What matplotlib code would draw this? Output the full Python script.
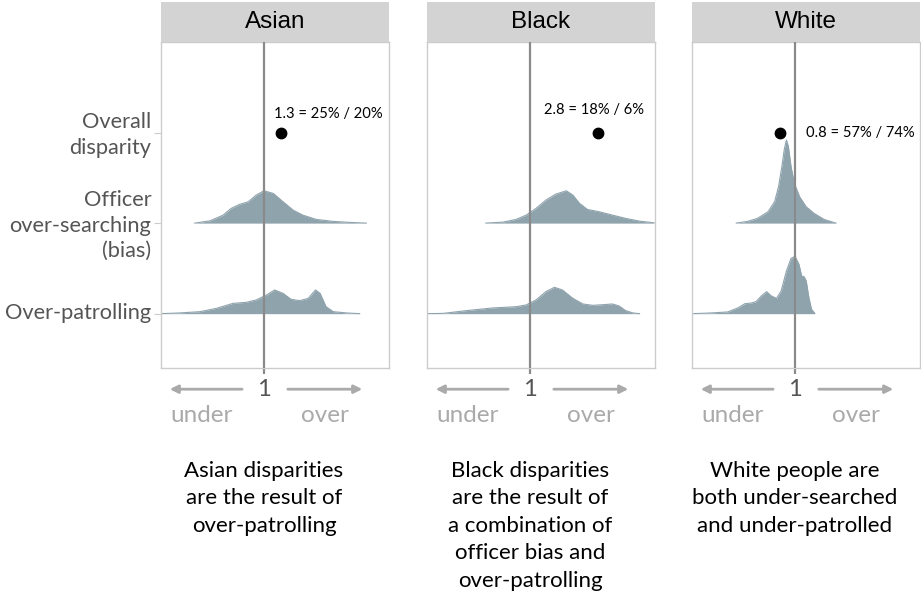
import numpy as np
import matplotlib
matplotlib.use("Agg")
import matplotlib.pyplot as plt
from matplotlib.transforms import offset_copy, blended_transform_factory, ScaledTranslation

plt.rcParams['font.family'] = ['Lato', 'DejaVu Sans']

races = ['Asian', 'Black', 'White']
row_labels = ['Overall\ndisparity', 'Officer\nover-searching\n(bias)', 'Over-patrolling']
row_pos = [3, 2, 1]

# overall search-rate ratio and the share behind it
overall = [1.3, 2.8, 0.8]
overall_text = ['1.3 = 25% / 20%', '2.8 = 18% / 6%', '0.8 = 57% / 74%']

captions = [
    'Asian disparities\nare the result of\nover-patrolling',
    'Black disparities\nare the result of\na combination of\nofficer bias and\nover-patrolling',
    'White people are\nboth under-searched\nand under-patrolled',
]

# ridge densities, x in log(ratio)
asian_bias_x = [-1.05, -0.82, -0.62, -0.50, -0.37, -0.24, -0.12, 0.0, 0.14, 0.29, 0.44, 0.59, 0.79, 1.05, 1.30, 1.55]
asian_bias_d = [0, .025, .088, .162, .207, .235, .309, .357, .328, .235, .144, .088, .041, .019, .008, 0]
asian_patrol_x = [-1.56, -1.28, -0.97, -0.72, -0.47, -0.27, -0.12, 0.04, 0.16, 0.29, 0.41, 0.54, 0.67, 0.78, 0.85, 0.94, 1.05, 1.25, 1.45]
asian_patrol_d = [0, .008, .022, .059, .114, .125, .151, .207, .262, .224, .158, .144, .169, .262, .224, .077, .022, .008, 0]

black_bias_x = [-0.67, -0.41, -0.21, -0.06, 0.09, 0.24, 0.39, 0.55, 0.65, 0.75, 0.87, 1.05, 1.25, 1.45, 1.66, 1.88]
black_bias_d = [0, .011, .041, .088, .162, .254, .320, .357, .309, .218, .151, .125, .088, .052, .022, .003]
black_patrol_x = [-1.58, -1.32, -0.97, -0.57, -0.21, -0.06, 0.09, 0.24, 0.37, 0.49, 0.65, 0.80, 0.95, 1.10, 1.25, 1.35, 1.45, 1.56, 1.66]
black_patrol_d = [0, .003, .033, .063, .077, .096, .151, .243, .291, .262, .169, .107, .092, .099, .107, .085, .033, .008, 0]

white_bias_x = [-0.89, -0.72, -0.57, -0.41, -0.31, -0.25, -0.20, -0.16, -0.13, -0.10, -0.06, -0.01, 0.07, 0.17, 0.29, 0.44, 0.62]
white_bias_d = [0, .019, .052, .125, .235, .401, .622, .825, .917, .843, .622, .439, .291, .180, .107, .041, 0]
white_patrol_x = [-1.55, -1.27, -1.02, -0.86, -0.76, -0.66, -0.59, -0.51, -0.43, -0.36, -0.28, -0.21, -0.13, -0.06, 0.0, 0.06, 0.10, 0.14, 0.17, 0.21, 0.25, 0.30]
white_patrol_d = [0, .008, .019, .066, .110, .118, .133, .196, .243, .196, .169, .251, .472, .611, .633, .545, .417, .406, .361, .177, .048, .003]

ridges = {
    'Asian': [(asian_bias_x, asian_bias_d), (asian_patrol_x, asian_patrol_d)],
    'Black': [(black_bias_x, black_bias_d), (black_patrol_x, black_patrol_d)],
    'White': [(white_bias_x, white_bias_d), (white_patrol_x, white_patrol_d)],
}

# label offsets (px) relative to the dot
text_off = [(-7, 19, 'left'), (-4, 23, 'center'), (26, 0, 'left')]

fill_col = '#8fa3ad'
W, H = 921, 591
fig = plt.figure(figsize=(W / 100, H / 100), dpi=100)

lefts = [161, 427, 692]
pw = 228
top, bottom = 42, 368

for i, race in enumerate(races):
    ax = fig.add_axes([lefts[i] / W, 1 - bottom / H, pw / W, (bottom - top) / H])
    ax.set_xscale('log')
    ax.set_xlim(np.exp(-1.561), np.exp(1.894))
    ax.set_ylim(0.40, 4.0)

    for (x, d), base in zip(ridges[race], [2, 1]):
        x = np.exp(np.array(x))
        d = np.array(d)
        ax.fill_between(x, base, base + d, color=fill_col, lw=0, zorder=2)
        ax.plot(x, base + d, color=fill_col, lw=0.8, zorder=2)

    ax.axvline(1, color='#8a8a8a', lw=1.6, zorder=3)
    ax.plot([overall[i]], [3], 'o', color='black', ms=7.5, zorder=4)
    dx, dy, ha = text_off[i]
    tr = offset_copy(ax.transData, fig=fig, x=dx, y=dy, units='dots')
    ax.text(overall[i], 3, overall_text[i], transform=tr, ha=ha, va='center',
            fontsize=10.6, color='black')

    for s in ax.spines.values():
        s.set_color('#cccccc')
        s.set_linewidth(1)

    ax.set_xticks([1])
    ax.set_xticklabels(['1'])
    ax.xaxis.set_minor_locator(matplotlib.ticker.NullLocator())
    ax.tick_params(axis='x', length=4, color='#8a8a8a', width=1.6, pad=4,
                   labelsize=17, labelcolor='#555555')
    if i == 0:
        ax.set_yticks(row_pos)
        ax.set_yticklabels(row_labels, fontsize=15.7, color='#555555', linespacing=1.33)
        ax.tick_params(axis='y', length=5, color='#cccccc', pad=2)
        nudge = ScaledTranslation(0, 1.6 / 72, fig.dpi_scale_trans)
        for lab in ax.get_yticklabels():
            lab.set_transform(lab.get_transform() + nudge)
    else:
        ax.set_yticks([])

    # direction arrows under the axis
    arrow = dict(arrowstyle='-|>', color='#aaaaaa', lw=2, mutation_scale=12)
    ax.annotate('', xy=(0.026, -0.065), xytext=(0.368, -0.065),
                xycoords='axes fraction', arrowprops=arrow, annotation_clip=False)
    ax.annotate('', xy=(0.895, -0.065), xytext=(0.544, -0.065),
                xycoords='axes fraction', arrowprops=arrow, annotation_clip=False)
    ax.text(0.179, -0.145, 'under', transform=ax.transAxes, ha='center', va='center',
            fontsize=17.5, color='#aaaaaa')
    ax.text(0.721, -0.145, 'over', transform=ax.transAxes, ha='center', va='center',
            fontsize=17.5, color='#aaaaaa')
    cap_tr = blended_transform_factory(ax.transData, ax.transAxes)
    ax.text(1, -0.285, captions[i], transform=cap_tr, ha='center', va='top',
            fontsize=16, color='black', linespacing=1.47, clip_on=False)

    strip = fig.add_axes([lefts[i] / W, 1 - top / H, pw / W, 40 / H])
    strip.set_facecolor('#d3d3d3')
    strip.set_xticks([])
    strip.set_yticks([])
    for s in strip.spines.values():
        s.set_visible(False)
    strip.text(0.5, 0.5, race, transform=strip.transAxes, ha='center', va='center',
               fontsize=17.5, family=['Liberation Sans', 'DejaVu Sans'], color='black')

fig.savefig('out.png', dpi=100)
